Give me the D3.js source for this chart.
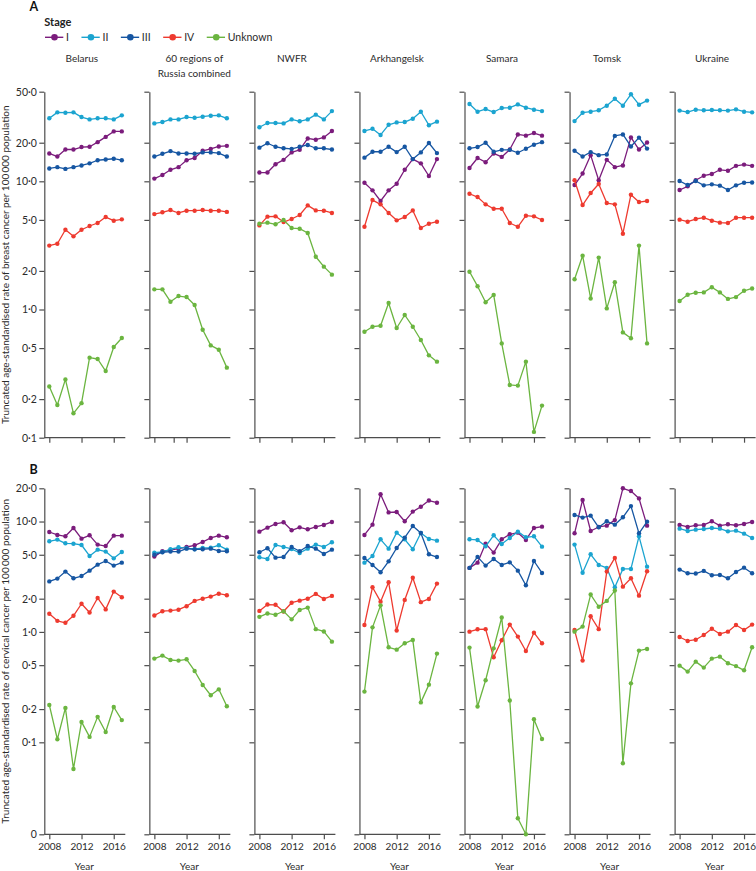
<!DOCTYPE html>
<html><head><meta charset="utf-8">
<script src="https://cdn.jsdelivr.net/npm/d3@7"></script>
<style>
html,body{margin:0;padding:0;background:#fff;}
svg{display:block;font-family:Lato, "Open Sans", sans-serif;}
</style></head>
<body><svg id="chart" width="756" height="871"></svg>
<script>
// ---------- data ----------
const years = [2008, 2009, 2010, 2011, 2012, 2013, 2014, 2015, 2016, 2017];
const regions = ["Belarus", "60 regions of Russia combined", "NWFR", "Arkhangelsk", "Samara", "Tomsk", "Ukraine"];
const regionHeaderLines = [["Belarus"], ["60 regions of", "Russia combined"], ["NWFR"], ["Arkhangelsk"], ["Samara"], ["Tomsk"], ["Ukraine"]];
const stages = ["I", "II", "III", "IV", "Unknown"];
const stageColors = ["#7b1c7c", "#1ba4d0", "#1656a2", "#ee3a2f", "#6bb540"];

const breastTicks = [50, 20, 10, 5, 2, 1, 0.5, 0.2, 0.1];
const cervicalTicks = [20, 10, 5, 2, 1, 0.5, 0.2, 0.1, 0];
const yearTicks = [2008, 2012, 2016];
const yearTicksRussiaBreast = [2008, 2010.4, 2012];

// Breast cancer (A): rows = regions, columns = years
const breastStageI = [
  [16.5, 15.6, 17.7, 17.7, 18.5, 18.6, 20.2, 22.2, 24.5, 24.5],
  [10.5, 11.2, 12.3, 12.9, 14.6, 15.2, 17.3, 17.9, 18.7, 18.9],
  [11.7, 11.7, 13.6, 14.7, 16.8, 17.6, 21.6, 21.1, 22.0, 24.7],
  [9.75, 8.5, 7.02, 8.5, 9.58, 12.3, 14.9, 13.8, 11.0, 14.9],
  [12.7, 15.2, 14.1, 16.5, 15.5, 17.7, 23.2, 22.7, 23.8, 22.7],
  [9.35, 11.5, 16.0, 10.2, 14.7, 12.9, 13.3, 22.0, 17.7, 20.1],
  [8.55, 9.13, 10.2, 11.06, 11.4, 12.3, 12.1, 13.2, 13.5, 13.2]
];
const breastStageII = [
  [31.0, 34.5, 34.3, 34.5, 31.7, 30.4, 31.0, 31.0, 30.4, 32.7],
  [28.3, 29.0, 30.4, 30.4, 31.7, 31.3, 31.9, 32.5, 32.7, 31.0],
  [26.4, 28.5, 28.5, 28.3, 30.4, 29.4, 30.4, 33.1, 30.4, 35.3],
  [24.7, 25.7, 23.0, 27.6, 28.8, 29.0, 30.8, 34.9, 27.4, 29.2],
  [40.1, 34.9, 36.6, 34.7, 37.3, 37.5, 39.8, 37.5, 36.2, 35.3],
  [29.5, 34.3, 34.9, 35.8, 38.9, 44.1, 38.9, 47.7, 39.6, 42.6],
  [35.6, 34.7, 36.2, 35.8, 36.0, 35.8, 35.6, 36.4, 34.9, 34.5]
];
const breastStageIII = [
  [12.6, 12.9, 12.5, 12.9, 13.3, 13.8, 14.6, 14.8, 15.0, 14.6],
  [15.6, 16.4, 17.2, 16.5, 16.5, 16.4, 16.8, 16.8, 16.6, 15.6],
  [18.3, 19.8, 18.6, 18.1, 17.9, 18.6, 19.2, 18.1, 18.1, 17.7],
  [15.3, 17.0, 17.0, 18.6, 16.9, 18.6, 14.9, 16.8, 19.9, 16.6],
  [18.1, 18.5, 20.0, 17.0, 17.6, 17.6, 16.7, 17.95, 19.3, 20.2],
  [17.3, 15.6, 16.9, 16.0, 16.2, 22.6, 23.2, 18.7, 21.9, 18.0],
  [10.05, 9.35, 10.05, 9.30, 9.47, 9.25, 8.55, 9.30, 9.75, 9.8]
];
const breastStageIV = [
  [3.15, 3.26, 4.19, 3.72, 4.19, 4.48, 4.73, 5.26, 4.93, 5.05],
  [5.55, 5.73, 5.97, 5.66, 5.90, 5.90, 5.97, 5.90, 5.90, 5.77],
  [4.53, 5.30, 5.33, 4.81, 5.08, 5.46, 6.49, 5.93, 5.90, 5.66],
  [4.42, 7.14, 6.61, 5.66, 4.96, 5.26, 5.93, 4.32, 4.67, 4.84],
  [8.0, 7.54, 6.61, 6.11, 6.11, 4.73, 4.42, 5.39, 5.33, 4.99],
  [10.2, 6.53, 8.1, 9.52, 6.77, 6.61, 3.90, 7.86, 6.89, 7.02],
  [5.02, 4.84, 5.08, 5.20, 4.93, 4.76, 4.73, 5.2, 5.2, 5.2]
];
const breastStageUnknown = [
  [0.251, 0.180, 0.285, 0.155, 0.186, 0.421, 0.411, 0.331, 0.51, 0.599],
  [1.436, 1.436, 1.15, 1.274, 1.251, 1.084, 0.696, 0.525, 0.486, 0.352],
  [4.67, 4.76, 4.62, 4.99, 4.32, 4.27, 3.95, 2.58, 2.16, 1.87],
  [0.671, 0.734, 0.747, 1.124, 0.717, 0.906, 0.734, 0.578, 0.439, 0.392],
  [1.97, 1.52, 1.14, 1.30, 0.544, 0.258, 0.255, 0.392, 0.111, 0.178],
  [1.72, 2.63, 1.22, 2.54, 1.02, 1.63, 0.663, 0.596, 3.15, 0.544],
  [1.165, 1.305, 1.352, 1.36, 1.49, 1.36, 1.21, 1.25, 1.40, 1.46]
];

// Cervical cancer (B)
const cervicalStageI = [
  [8.04, 7.56, 7.35, 8.74, 7.0, 7.5, 6.18, 6.0, 7.45, 7.45],
  [4.81, 5.38, 5.52, 5.68, 5.88, 6.09, 6.53, 7.10, 7.45, 7.20],
  [8.10, 8.80, 9.51, 9.84, 8.33, 8.86, 8.50, 8.93, 9.31, 9.91],
  [7.56, 9.37, 17.65, 12.1, 12.2, 10.05, 12.3, 13.6, 15.5, 14.8],
  [3.80, 4.24, 6.31, 5.23, 6.90, 7.66, 7.93, 6.81, 8.74, 8.99],
  [7.82, 15.7, 8.21, 8.93, 9.18, 10.3, 21.7, 18.9, 16.2, 9.18],
  [9.31, 8.93, 9.25, 9.31, 10.05, 9.18, 9.44, 9.25, 9.5, 9.91]
];
const cervicalStageII = [
  [6.62, 6.86, 6.35, 6.3, 6.13, 4.88, 5.56, 5.34, 4.64, 5.3],
  [5.23, 5.3, 5.61, 5.84, 5.73, 5.61, 5.77, 5.8, 6.09, 5.56],
  [4.74, 4.58, 6.13, 5.88, 5.64, 5.19, 5.68, 6.18, 5.88, 6.49],
  [4.24, 4.88, 6.90, 5.68, 7.93, 6.90, 5.61, 7.88, 6.95, 6.71],
  [6.90, 6.81, 5.96, 7.50, 6.26, 7.10, 8.10, 7.20, 7.35, 5.92],
  [6.18, 3.44, 5.05, 4.04, 3.80, 2.54, 3.72, 3.72, 7.35, 3.90],
  [8.62, 8.21, 8.44, 8.56, 8.74, 8.62, 8.15, 8.27, 7.77, 7.10]
];
const cervicalStageIII = [
  [2.87, 3.04, 3.52, 3.06, 3.21, 3.59, 4.07, 4.39, 3.99, 4.24],
  [5.01, 5.27, 5.34, 5.34, 5.68, 5.61, 5.61, 5.68, 5.41, 5.38],
  [5.27, 5.73, 4.71, 4.77, 5.88, 5.38, 6.0, 5.68, 5.08, 5.56],
  [4.68, 4.04, 3.47, 4.36, 5.76, 7.15, 9.11, 7.88, 5.05, 4.77],
  [3.80, 4.78, 3.99, 4.58, 4.04, 4.27, 3.59, 2.65, 4.39, 3.42],
  [11.47, 10.85, 11.3, 8.87, 10.05, 9.37, 10.93, 13.8, 7.82, 9.98],
  [3.67, 3.40, 3.38, 3.57, 3.26, 3.28, 3.06, 3.49, 3.82, 3.40]
];
const cervicalStageIV = [
  [1.46, 1.26, 1.21, 1.40, 1.80, 1.50, 2.03, 1.60, 2.32, 2.06],
  [1.41, 1.54, 1.56, 1.59, 1.71, 1.91, 2.0, 2.09, 2.22, 2.15],
  [1.55, 1.77, 1.76, 1.53, 1.84, 1.92, 2.0, 2.21, 1.99, 2.12],
  [1.157, 2.54, 1.88, 2.82, 1.03, 1.95, 3.10, 1.86, 1.99, 2.74],
  [1.006, 1.056, 1.06, 0.589, 0.84, 1.165, 0.907, 0.672, 0.985, 0.789],
  [1.04, 0.55, 1.386, 1.06, 3.52, 4.68, 2.57, 3.06, 2.13, 3.55],
  [0.90, 0.828, 0.85, 0.939, 1.07, 0.959, 1.006, 1.157, 1.04, 1.165]
];
const cervicalStageUnknown = [
  [0.218, 0.1066, 0.205, 0.0574, 0.153, 0.112, 0.170, 0.124, 0.209, 0.159],
  [0.573, 0.61, 0.557, 0.55, 0.565, 0.443, 0.331, 0.267, 0.302, 0.212],
  [1.37, 1.47, 1.43, 1.54, 1.30, 1.58, 1.66, 1.06, 1.01, 0.816],
  [0.288, 1.10, 1.74, 0.726, 0.691, 0.789, 0.846, 0.230, 0.333, 0.636],
  [0.721, 0.211, 0.365, 0.71, 1.35, 0.239, 0.0205, 0, 0.162, 0.107],
  [1.006, 1.117, 2.18, 1.69, 1.91, 2.37, 0.0646, 0.342, 0.677, 0.701],
  [0.495, 0.437, 0.538, 0.475, 0.573, 0.597, 0.52, 0.49, 0.449, 0.726]
];

// ---------- layout ----------
const svg = d3.select("#chart");
const axisColor = "#4d4d4d";
const textColor = "#2b2b2b";
const panelX0 = 44.3, panelStep = 105.05;
const axisLeftOf = i => panelX0 + i * panelStep;

const cervicalMin = 0.01468;
const rows = [
  {
    letter: "A", letterY: 10.5,
    series: [breastStageI, breastStageII, breastStageIII, breastStageIV, breastStageUnknown],
    y: d3.scaleLog().domain([0.1, 50]).range([437.7, 91.7]),
    ticks: breastTicks, min: 0.1,
    label: "Truncated age-standardised rate of breast cancer per 100\u2009000 population",
    showYears: false
  },
  {
    letter: "B", letterY: 473.5,
    series: [cervicalStageI, cervicalStageII, cervicalStageIII, cervicalStageIV, cervicalStageUnknown],
    y: d3.scaleLog().domain([cervicalMin, 20]).range([834.3, 488.3]).clamp(true),
    ticks: cervicalTicks, min: cervicalMin,
    label: "Truncated age-standardised rate of cervical cancer per 100\u2009000 population",
    showYears: true
  }
];

const fmt = d3.format(".1f");

// Panel letters
rows.forEach(r => {
  svg.append("text").attr("x", 29.5).attr("y", r.letterY)
    .attr("font-size", 12.5).attr("font-weight", 700).attr("fill", "#111").text(r.letter);
});

// Legend
svg.append("text").attr("x", 44.3).attr("y", 26.3).attr("font-size", 11)
  .attr("font-weight", 700).attr("fill", "#222").text("Stage");
let lx = 45;
const legY = 37.3;
stages.forEach((s, k) => {
  const g = svg.append("g");
  g.append("line").attr("x1", lx).attr("x2", lx + 18.3).attr("y1", legY).attr("y2", legY)
    .attr("stroke", stageColors[k]).attr("stroke-width", 1.4);
  g.append("circle").attr("cx", lx + 9.5).attr("cy", legY).attr("r", 3.3).attr("fill", stageColors[k]);
  const t = g.append("text").attr("x", lx + 21).attr("y", legY + 3.6).attr("font-size", 10.5)
    .attr("fill", textColor).text(s);
  lx = lx + 21 + t.node().getComputedTextLength() + 12.5;
});

// Region headers
regionHeaderLines.forEach((lines, i) => {
  const cx = axisLeftOf(i) + (lines.length > 1 ? 45 : 37.5);
  lines.forEach((ln, j) => {
    svg.append("text").attr("x", cx).attr("y", 62 + j * 14.5).attr("text-anchor", "middle")
      .attr("font-size", 10).attr("fill", textColor).text(ln);
  });
});

// Panels
rows.forEach((r, ri) => {
  const [yb, yt] = r.y.range();
  svg.append("text")
    .attr("transform", `translate(9,${(yb + yt) / 2}) rotate(-90)`)
    .attr("text-anchor", "middle").attr("font-size", 10).attr("fill", textColor)
    .text(r.label);

  regions.forEach((reg, i) => {
    const ax = axisLeftOf(i);
    const x = d3.scaleLinear().domain([years[0], years[years.length - 1]]).range([ax + 5, ax + 77.5]);
    const y = r.y;
    const g = svg.append("g");

    // y axis
    const yAxis = d3.axisLeft(y)
      .tickValues(r.ticks.map(t => t === 0 ? r.min : t))
      .tickSize(5).tickSizeOuter(0).tickPadding(2.5)
      .tickFormat(i === 0 ? (v => (v <= cervicalMin * 1.0001 && r.ticks.includes(0)) ? "0" : fmt(v).replace(".", "\u00b7")) : "");
    const ya = g.append("g").attr("transform", `translate(${ax},0)`).call(yAxis);
    ya.select(".domain").attr("stroke", axisColor).attr("stroke-width", 1.2);
    ya.selectAll(".tick line").attr("stroke", axisColor).attr("stroke-width", 1.2);
    ya.selectAll(".tick text").attr("font-size", 10.5).attr("fill", textColor).attr("font-family", "Lato");

    // x axis
    const tv = (ri === 0 && i === 1) ? yearTicksRussiaBreast : yearTicks;
    const xAxis = d3.axisBottom(x).tickValues(tv).tickSize(5).tickSizeOuter(0).tickPadding(4)
      .tickFormat(r.showYears ? d3.format("d") : "");
    const xa = g.append("g").attr("transform", `translate(0,${yb})`).call(xAxis);
    xa.select(".domain").remove();
    xa.selectAll(".tick line").attr("stroke", axisColor).attr("stroke-width", 1.2);
    xa.selectAll(".tick text").attr("font-size", 10).attr("fill", textColor).attr("font-family", "Lato");
    g.append("line").attr("x1", ax).attr("x2", ax + 81).attr("y1", yb).attr("y2", yb)
      .attr("stroke", axisColor).attr("stroke-width", 1.2);

    if (r.showYears) {
      g.append("text").attr("x", ax + 40).attr("y", 870).attr("text-anchor", "middle")
        .attr("font-size", 10).attr("fill", textColor).text("Year");
    }

    // series
    r.series.forEach((ser, k) => {
      const vals = ser[i];
      const pts = years.map((yr, j) => [x(yr), y(Math.max(vals[j], r.min))]);
      g.append("path").attr("d", d3.line()(pts)).attr("fill", "none")
        .attr("stroke", stageColors[k]).attr("stroke-width", 1.3).attr("stroke-linejoin", "round");
      g.selectAll(null).data(pts).enter().append("circle")
        .attr("cx", d => d[0]).attr("cy", d => d[1]).attr("r", 2.2).attr("fill", stageColors[k]);
    });
  });
});
</script>
</body></html>
